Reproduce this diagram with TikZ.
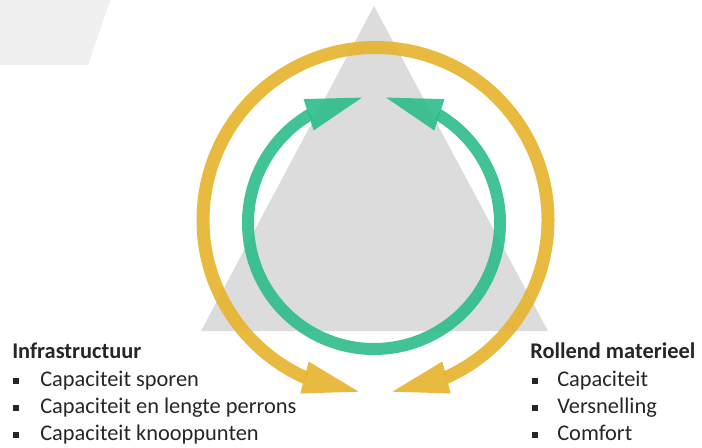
\documentclass[tikz,border=0pt]{standalone}
\usepackage{fontspec}
\setmainfont{Carlito}
\usetikzlibrary{positioning,arrows.meta,bending}
\definecolor{ringgold}{HTML}{E6B32B}
\definecolor{ringgreen}{HTML}{2DBC8A}
\definecolor{pyramid}{HTML}{DCDCDC}
\definecolor{tabgray}{HTML}{F0F0F0}
\definecolor{txt}{HTML}{262626}
\tikzset{
  ring/.style={line width=#1, opacity=0.9, >={Triangle[length=42pt,width=24.75pt,line width=0pt]}, <->},
  head/.style={anchor=base west, inner sep=0pt, text=txt, font=\fontsize{16.8}{20}\selectfont\bfseries},
  item/.style={anchor=base west, inner sep=0pt, text=txt, font=\fontsize{16.8}{20}\selectfont},
  bul/.style={fill=txt, minimum size=4.8pt, inner sep=0pt}
}
\begin{document}
\begin{tikzpicture}[x=0.75pt,y=0.75pt]
\useasboundingbox (0,0) rectangle (702,447);
\fill[tabgray] (-5,452) -- (112,452) -- (88,382) -- (-5,382) -- cycle;
\fill[pyramid] (201,116) -- (548,116) -- (374,441) -- cycle;
\draw[ring=9.75pt, ringgold] ([shift={(264.4:172.5)}]375.5,227) arc[start angle=264.4, end angle=-84.4, radius=172.5];
\draw[ring=9pt, ringgreen] ([shift={(95.5:126)}]374,224) arc[start angle=95.5, end angle=444.5, radius=126];
\node[head] (infra) at (12,89) {Infrastructuur};
\node[item] (i1) at (40,61) {Capaciteit sporen};
\node[item] (i2) at (40,34) {Capaciteit en lengte perrons};
\node[item] (i3) at (40,7) {Capaciteit knooppunten};
\node[bul] (ib1) at (16,66) {};
\node[bul] (ib2) at (16,39) {};
\node[bul] (ib3) at (16,12) {};
\node[head] (rollend) at (530,89) {Rollend materieel};
\node[item] (r1) at (557,61) {Capaciteit};
\node[item] (r2) at (557,34) {Versnelling};
\node[item] (r3) at (557,7) {Comfort};
\node[bul] (rb1) at (535,66) {};
\node[bul] (rb2) at (535,39) {};
\node[bul] (rb3) at (535,12) {};
\end{tikzpicture}
\end{document}
